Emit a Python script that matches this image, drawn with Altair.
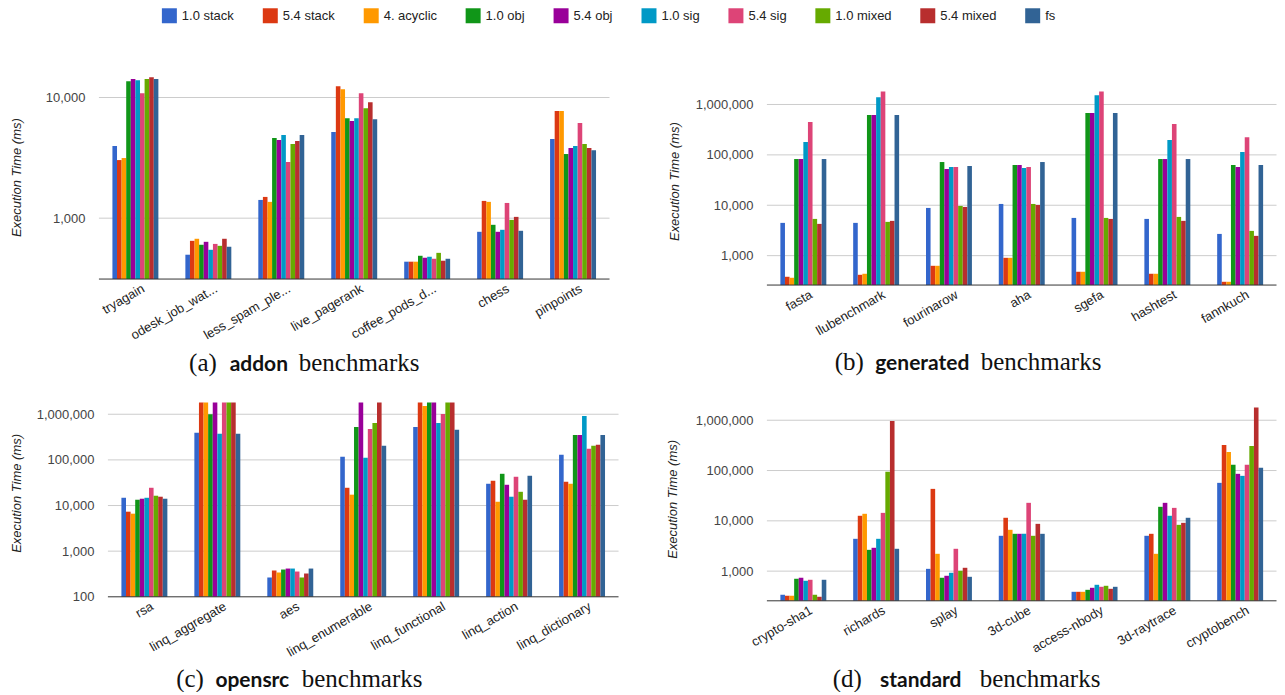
import altair as alt
import pandas as pd

FONT = "Liberation Sans, Arial, sans-serif"

SERIES = ["1.0 stack", "5.4 stack", "4. acyclic", "1.0 obj", "5.4 obj",
          "1.0 sig", "5.4 sig", "1.0 mixed", "5.4 mixed", "fs"]
COLORS = ["#3366cc", "#dc3912", "#ff9900", "#109618", "#990099",
          "#0099c6", "#dd4477", "#66aa00", "#b82e2e", "#316395"]

# (a) addon
ADDON_BENCH = ["tryagain", "odesk_job_wat...", "less_spam_ple...", "live_pagerank",
               "coffee_pods_d...", "chess", "pinpoints"]
ADDON = {
    "1.0 stack":  [3960, 498, 1416, 5170, 436, 771, 4520],
    "5.4 stack":  [3030, 649, 1500, 12400, 436, 1390, 7710],
    "4. acyclic": [3150, 675, 1365, 11700, 436, 1365, 7710],
    "1.0 obj":    [13640, 602, 4610, 6740, 488, 881, 3400],
    "5.4 obj":    [14200, 637, 4440, 6370, 470, 771, 3810],
    "1.0 sig":    [13900, 547, 4880, 6740, 479, 801, 3960],
    "5.4 sig":    [10850, 612, 2920, 10850, 461, 1337, 6140],
    "1.0 mixed":  [14200, 590, 4110, 8160, 516, 968, 4110],
    "5.4 mixed":  [14700, 675, 4360, 9140, 444, 1025, 3810],
    "fs":         [14200, 580, 4880, 6600, 461, 786, 3660],
}

# (b) generated
GEN_BENCH = ["fasta", "llubenchmark", "fourinarow", "aha", "sgefa", "hashtest", "fannkuch"]
GENERATED = {
    "1.0 stack":  [4470, 4470, 8850, 10620, 5610, 5360, 2700],
    "5.4 stack":  [381, 417, 629, 906, 479, 437, 303],
    "4. acyclic": [364, 437, 629, 906, 479, 437, 303],
    "1.0 obj":    [82700, 615000, 72100, 62900, 674000, 82700, 62900],
    "5.4 obj":    [82700, 615000, 52400, 62900, 674000, 82700, 57400],
    "1.0 sig":    [179500, 1397000, 57400, 54800, 1530000, 197000, 113800],
    "5.4 sig":    [447000, 1800000, 57400, 57400, 1800000, 408000, 225000],
    "1.0 mixed":  [5360, 4680, 9700, 10620, 5610, 5870, 3100],
    "5.4 mixed":  [4270, 4900, 9270, 10160, 5360, 4900, 2470],
    "fs":         [82700, 615000, 60100, 72100, 674000, 82700, 62900],
}

# (c) opensrc
OPEN_BENCH = ["rsa", "linq_aggregate", "aes", "linq_enumerable", "linq_functional",
              "linq_action", "linq_dictionary"]
OPENSRC = {
    "1.0 stack":  [14800, 391000, 265, 117000, 528000, 30000, 129000],
    "5.4 stack":  [7330, 1800000, 377, 24500, 1800000, 34900, 33200],
    "4. acyclic": [6630, 1800000, 341, 17300, 1520000, 12100, 30000],
    "1.0 obj":    [13400, 1000000, 396, 528000, 1800000, 49600, 353000],
    "5.4 obj":    [14100, 1800000, 416, 1800000, 1800000, 28500, 353000],
    "1.0 sig":    [14800, 372000, 416, 111000, 647000, 15600, 920000],
    "5.4 sig":    [24500, 1800000, 358, 478000, 1017000, 42700, 175000],
    "1.0 mixed":  [16400, 1800000, 265, 647000, 1800000, 20000, 203000],
    "5.4 mixed":  [15600, 1800000, 324, 1800000, 1800000, 13400, 214000],
    "fs":         [14100, 372000, 416, 203000, 455000, 44900, 353000],
}

# (d) standard
STD_BENCH = ["crypto-sha1", "richards", "splay", "3d-cube", "access-nbody",
             "3d-raytrace", "cryptobench"]
STANDARD = {
    "1.0 stack":  [339, 4390, 1110, 5040, 388, 5040, 56900],
    "5.4 stack":  [324, 12600, 43200, 11500, 388, 5520, 323000],
    "4. acyclic": [324, 13800, 2210, 6630, 388, 2210, 235000],
    "1.0 obj":    [705, 2650, 738, 5520, 425, 19000, 130000],
    "5.4 obj":    [738, 2910, 808, 5520, 466, 22800, 86000],
    "1.0 sig":    [643, 4390, 927, 5520, 535, 12600, 78400],
    "5.4 sig":    [673, 14400, 2780, 22800, 488, 18100, 130000],
    "1.0 mixed":  [339, 94100, 1016, 5040, 511, 8320, 309000],
    "5.4 mixed":  [309, 970000, 1165, 8710, 445, 9120, 1800000],
    "fs":         [673, 2780, 771, 5520, 488, 11500, 113000],
}

LEGEND = alt.Legend(
    title=None, orient="none", legendX=63, legendY=-82,
    direction="horizontal", columns=10, symbolType="square", symbolSize=225,
    symbolStrokeWidth=0, symbolOpacity=1, labelFont=FONT, labelFontSize=13,
    labelColor="#222", labelOffset=5, columnPadding=28,
)


def panel(bench, values, domain, ticks, width, height, shift, title_x, title_y,
          caption, cap_x, cap_y):
    rows = []
    for s in SERIES:
        for i, b in enumerate(bench):
            rows.append({"bench": b, "series": s, "ms": values[s][i]})
    df = pd.DataFrame(rows)

    yscale = alt.Scale(type="log", domain=domain, nice=False)
    yenc = alt.Y("ms:Q", scale=yscale,
                 axis=alt.Axis(title="Execution Time (ms)", values=ticks, format=",",
                               ticks=False, tickSize=0, domain=False, grid=False,
                               labelPadding=14 - shift,
                               labelFont=FONT, labelFontSize=13, labelColor="#444",
                               titleFont=FONT, titleFontSize=13, titleFontStyle="italic",
                               titleFontWeight="normal", titleColor="#222",
                               titleX=title_x, titleY=title_y, titleAngle=270,
                               titleAlign="center", titleBaseline="middle"))

    grid = alt.Chart(pd.DataFrame({"ms": [t for t in ticks if t > domain[0]]})).mark_rule(
        color="#cccccc", strokeWidth=1
    ).encode(y=yenc, x=alt.value(shift), x2=alt.value(width))

    bars = alt.Chart(df).mark_bar(clip=False).encode(
        x=alt.X("bench:N", sort=bench,
                scale=alt.Scale(paddingInner=0.37, paddingOuter=0.185,
                                range=[shift, width]),
                axis=alt.Axis(title=None, labelAngle=-30, labelAlign="right",
                              labelBaseline="top", labelPadding=3, labelOffset=5,
                              labelLimit=300, labelOverlap=False, ticks=False,
                              tickSize=0, domain=False,
                              labelFont=FONT, labelFontSize=13, labelColor="#222",
                              grid=False)),
        xOffset=alt.XOffset("series:N", sort=SERIES,
                            scale=alt.Scale(paddingInner=0, paddingOuter=0)),
        y=yenc,
        y2=alt.datum(domain[0]),
        color=alt.Color("series:N", sort=SERIES,
                        scale=alt.Scale(domain=SERIES, range=COLORS), legend=LEGEND),
    )

    base = alt.Chart(pd.DataFrame({"ms": [domain[0]]})).mark_rule(
        color="#333333", strokeWidth=1
    ).encode(y=yenc, x=alt.value(shift), x2=alt.value(width))

    layers = [grid, bars, base]
    styles = [("Liberation Serif", "normal", 25, "right"),
              ("Lato", "bold", 21, "center"),
              ("Liberation Serif", "normal", 25, "left")]
    for txt, xpos, (fam, wt, fs, al) in zip(caption, cap_x, styles):
        layers.append(
            alt.Chart(pd.DataFrame({"t": [txt]})).mark_text(
                font=fam, fontWeight=wt, fontSize=fs, align=al,
                baseline="alphabetic", color="#111"
            ).encode(text="t:N", x=alt.value(xpos), y=alt.value(cap_y))
        )
    return alt.layer(*layers).properties(width=width, height=height)


pa = panel(ADDON_BENCH, ADDON, [313, 11490], [1000, 10000], 511, 189, 0,
           -82.5, 87, ["(a)", "addon", "benchmarks"], [118, 160, 200], 281)
pb = panel(GEN_BENCH, GENERATED, [261, 1920000], [1000, 10000, 100000, 1000000], 510, 195, 0,
           -92, 91, ["(b)", "generated", "benchmarks"], [97, 155.5, 214], 280)
pc = panel(OPEN_BENCH, OPENSRC, [100, 1860000], [100, 1000, 10000, 100000, 1000000], 520, 195, 9,
           -82.5, 91, ["(c)", "opensrc", "benchmarks"], [105, 153.5, 203], 285)
pd_ = panel(STD_BENCH, STANDARD, [257, 2310000], [1000, 10000, 100000, 1000000], 510, 199, 0,
            -94, 97, ["(d)", "standard", "benchmarks"], [95, 154, 213], 285)

chart = alt.concat(
    pa, pb, pc, pd_, columns=2, bounds="full",
    spacing={"row": 26, "column": 47.5},
).properties(
    padding={"left": 2, "top": 0, "right": 0, "bottom": 0}, background="white"
).configure_view(stroke=None)

chart.save("out.html", embed_options={"renderer": "svg", "actions": False})
